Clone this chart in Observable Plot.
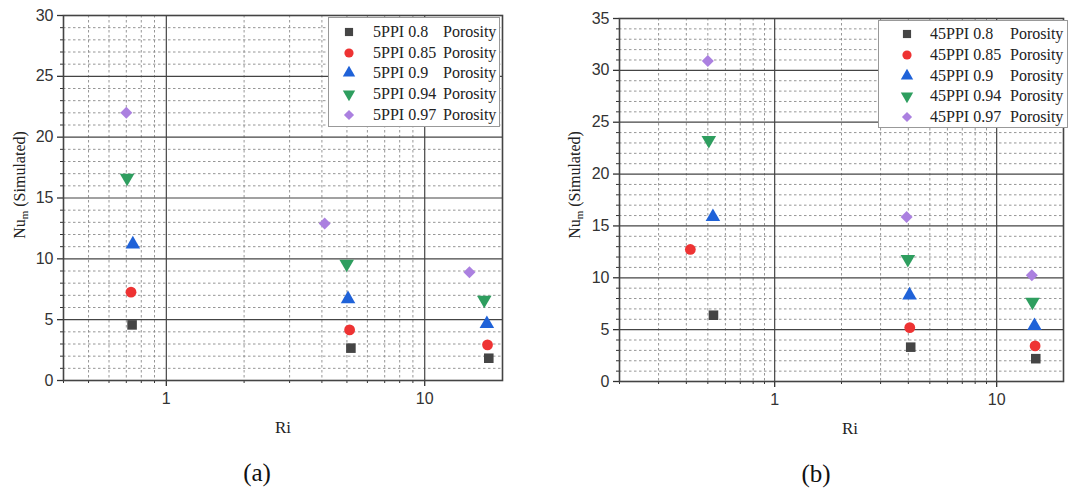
<!DOCTYPE html>
<html>
<head>
<meta charset="utf-8">
<script src="https://cdn.jsdelivr.net/npm/d3@7"></script>
<script src="https://cdn.jsdelivr.net/npm/@observablehq/plot@0.6"></script>
<style>
  html, body { margin: 0; padding: 0; background: #fff; }
  #root { position: relative; width: 1071px; height: 497px; overflow: hidden; background: #fff; }
  .panel { position: absolute; top: 0; }
  .serif { font-family: "Liberation Serif", "Times New Roman", Times, "DejaVu Serif", serif; }
  .ylab { position: absolute; font-size: 16px; color: #222;
          transform: translate(-50%, -50%) rotate(-90deg); white-space: nowrap; }
  .ylab sub { font-size: 11px; vertical-align: -3px; }
  .xlab { position: absolute; font-size: 17px; color: #222; transform: translate(-50%, -50%); }
  .cap { position: absolute; font-size: 25px; color: #111; transform: translate(-50%, -50%); }
  .legend { position: absolute; background: #fff; border: 1px solid #999; box-sizing: border-box;
            font-size: 16px; color: #222; }
  .legend .row { position: absolute; height: 20px; line-height: 20px; white-space: nowrap; }
  .legend svg { position: absolute; overflow: visible; }
</style>
</head>
<body>
<div id="root"></div>
<script>
// ---- data ----
const seriesA = ["5PPI 0.8", "5PPI 0.85", "5PPI 0.9", "5PPI 0.94", "5PPI 0.97"];
const seriesB = ["45PPI 0.8", "45PPI 0.85", "45PPI 0.9", "45PPI 0.94", "45PPI 0.97"];
const colors = ["#454545", "#ee3333", "#1f62d8", "#2e9e5f", "#ab80e0"];

// Panel (a): Ri and Nu_m for each porosity
const riA = [
  [0.737, 5.18, 17.7],
  [0.73, 5.12, 17.5],
  [0.742, 5.05, 17.4],
  [0.705, 4.99, 17.0],
  [0.70, 4.10, 14.9]
];
const nuA = [
  [4.57, 2.66, 1.83],
  [7.26, 4.16, 2.93],
  [11.2, 6.7, 4.66],
  [16.65, 9.58, 6.63],
  [22.0, 12.9, 8.9]
];
// Panel (b)
const riB = [
  [0.53, 4.10, 15.0],
  [0.417, 4.06, 14.9],
  [0.527, 4.05, 14.8],
  [0.505, 3.98, 14.5],
  [0.50, 3.93, 14.4]
];
const nuB = [
  [6.39, 3.31, 2.2],
  [12.73, 5.2, 3.43],
  [15.87, 8.32, 5.36],
  [23.27, 11.8, 7.68],
  [30.9, 15.87, 10.25]
];

const xMajor = [1, 10];
const xMinorA = [0.4, 0.5, 0.6, 0.7, 0.8, 0.9, 2, 3, 4, 5, 6, 7, 8, 9];
const xMinorB = [0.2, 0.3, 0.4, 0.5, 0.6, 0.7, 0.8, 0.9, 2, 3, 4, 5, 6, 7, 8, 9];

// ---- symbols ----
const triangleDown = {
  draw(context, size) {
    const s = Math.sqrt(size / (Math.sqrt(3) / 4));
    const h = s * Math.sqrt(3) / 2;
    context.moveTo(0, h * 2 / 3);
    context.lineTo(s / 2, -h / 3);
    context.lineTo(-s / 2, -h / 3);
    context.closePath();
  }
};
const symbols = ["square", "circle", "triangle", triangleDown, "diamond2"];
const R = 5.4;

function rows(series, ri, nu) {
  const out = [];
  series.forEach((s, i) => ri[i].forEach((x, j) => out.push({series: s, ri: x, nu: nu[i][j]})));
  return out;
}

function panel(opts) {
  const {series, ri, nu, xDomain, yMax, xMinor, width, height, mL, mT, mR, mB} = opts;
  const yMajor = d3.range(0, yMax + 1, 5);
  const yMinor = d3.range(0, yMax + 1, 1).filter(v => v % 5 !== 0);
  const data = rows(series, ri, nu);
  return Plot.plot({
    width, height,
    marginLeft: mL, marginTop: mT, marginRight: mR, marginBottom: mB,
    style: {fontFamily: "'Liberation Sans', Arial, sans-serif", fontSize: "15px", color: "#333", background: "#fff"},
    x: {type: "log", domain: xDomain, label: null},
    y: {domain: [0, yMax], label: null},
    symbol: {domain: series, range: symbols},
    color: {domain: series, range: colors},
    marks: [
      Plot.ruleX(xMinor, {stroke: "#8a8a8a", strokeDasharray: "2.5,2.5", strokeWidth: 0.9}),
      Plot.ruleY(yMinor, {stroke: "#8a8a8a", strokeDasharray: "2.5,2.5", strokeWidth: 0.9}),
      Plot.ruleX(xMajor, {stroke: "#444", strokeWidth: 1.2}),
      Plot.ruleY(yMajor, {stroke: "#444", strokeWidth: 1.2}),
      Plot.axisY(yMajor, {tickSize: 6, tickPadding: 4, fontSize: 16, stroke: "#333", strokeWidth: 1.3, label: null}),
      Plot.axisY(yMinor, {tickSize: 3, tickFormat: () => "", stroke: "#333", label: null}),
      Plot.axisX(xMajor, {tickSize: 6, tickPadding: 6, fontSize: 16, stroke: "#333", strokeWidth: 1.3, tickFormat: d => String(d), label: null}),
      Plot.axisX(xMinor, {tickSize: 3, tickFormat: () => "", stroke: "#333", label: null}),
      Plot.frame({stroke: "#444", strokeWidth: 1.6}),
      Plot.dot(data, {x: "ri", y: "nu", symbol: "series", fill: "series", r: R, stroke: "none"})
    ]
  });
}

function legend(root, series, left, top, w, h, symX, textX, porX, rowY) {
  const box = document.createElement("div");
  box.className = "legend serif";
  Object.assign(box.style, {left: left + "px", top: top + "px", width: w + "px", height: h + "px"});
  series.forEach((s, i) => {
    const cy = rowY[i] - top;
    const ns = "http://www.w3.org/2000/svg";
    const svg = document.createElementNS(ns, "svg");
    svg.setAttribute("width", 12); svg.setAttribute("height", 12);
    svg.style.left = (symX - left - 6) + "px";
    svg.style.top = (cy - 6) + "px";
    const path = document.createElementNS(ns, "path");
    const t = symbols[i];
    const typ = typeof t === "string" ? {square: d3.symbolSquare, circle: d3.symbolCircle, triangle: d3.symbolTriangle, diamond2: d3.symbolDiamond2}[t] : t;
    path.setAttribute("d", d3.symbol(typ, 4.6 * 4.6 * Math.PI)());
    path.setAttribute("transform", "translate(6,6)");
    path.setAttribute("fill", colors[i]);
    svg.appendChild(path);
    box.appendChild(svg);
    const r1 = document.createElement("div");
    r1.className = "row"; r1.textContent = s;
    r1.style.left = (textX - left) + "px"; r1.style.top = (cy - 10) + "px";
    box.appendChild(r1);
    const r2 = document.createElement("div");
    r2.className = "row"; r2.textContent = "Porosity";
    r2.style.left = (porX - left) + "px"; r2.style.top = (cy - 10) + "px";
    box.appendChild(r2);
  });
  root.appendChild(box);
}

const root = document.getElementById("root");

const pa = panel({series: seriesA, ri: riA, nu: nuA, xDomain: [0.4, 20], yMax: 30, xMinor: xMinorA,
  width: 520, height: 420, mL: 63, mT: 15, mR: 18, mB: 40});
pa.classList.add("panel"); pa.style.left = "0px";
root.appendChild(pa);

const pb = panel({series: seriesB, ri: riB, nu: nuB, xDomain: [0.2, 20], yMax: 35, xMinor: xMinorB,
  width: 531, height: 420, mL: 79, mT: 18, mR: 8, mB: 39});
pb.classList.add("panel"); pb.style.left = "540px";
root.appendChild(pb);

function addText(cls, html, x, y) {
  const d = document.createElement("div");
  d.className = cls + " serif"; d.innerHTML = html;
  d.style.left = x + "px"; d.style.top = y + "px";
  root.appendChild(d);
}
addText("ylab", "Nu<sub>m</sub> (Simulated)", 20, 185);
addText("ylab", "Nu<sub>m</sub> (Simulated)", 575, 185);
addText("xlab", "Ri", 283, 428);
addText("xlab", "Ri", 850, 429);
addText("cap", "(a)", 257, 473);
addText("cap", "(b)", 816, 474);

legend(root, seriesA, 328, 17, 172, 110, 348, 372, 442, [30.7, 51.5, 72.3, 93.1, 114]);
legend(root, seriesB, 878, 20, 190, 108, 906, 929, 1009, [33, 53.8, 74.6, 95.4, 116.2]);
</script>
</body>
</html>
